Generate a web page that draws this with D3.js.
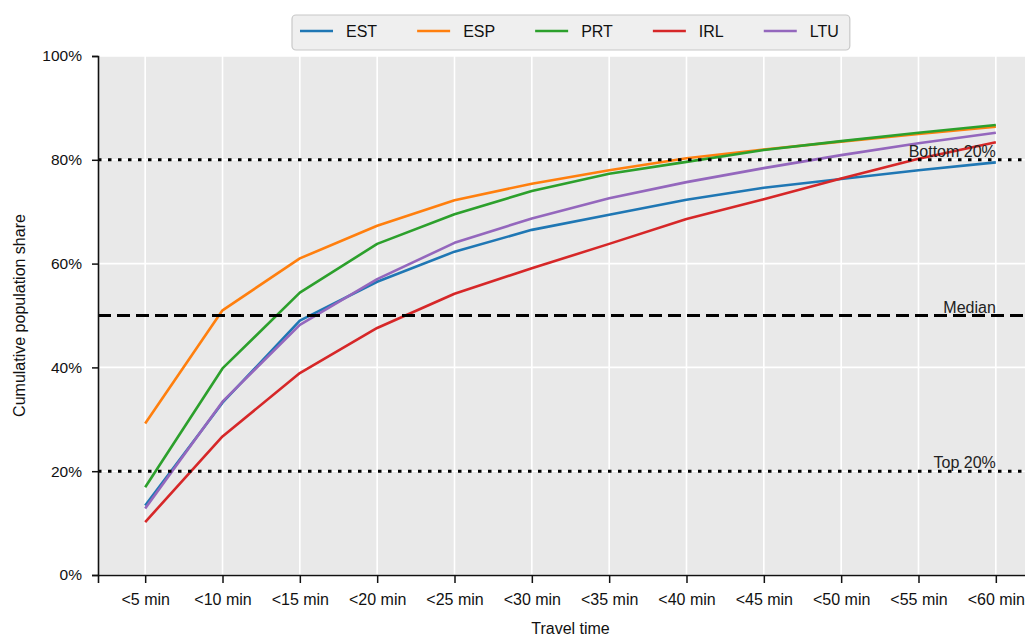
<!DOCTYPE html>
<html>
<head>
<meta charset="utf-8">
<script src="https://cdn.jsdelivr.net/npm/d3@7"></script>
<style>
  html, body { margin: 0; padding: 0; background: #fff; overflow: hidden; }
  svg { display: block; font-family: "Liberation Sans", Arial, sans-serif; }
</style>
</head>
<body>
<div id="chart"></div>
<script>
const categories = ['<5 min', '<10 min', '<15 min', '<20 min', '<25 min', '<30 min',
  '<35 min', '<40 min', '<45 min', '<50 min', '<55 min', '<60 min'];

const seriesNames = ['EST', 'ESP', 'PRT', 'IRL', 'LTU'];
const seriesColors = ['#1f77b4', '#ff7f0e', '#2ca02c', '#d62728', '#9467bd'];

const est = [13.4, 33.2, 49.0, 56.5, 62.3, 66.5, 69.4, 72.3, 74.6, 76.3, 78.0, 79.5];
const esp = [29.2, 51.0, 61.0, 67.3, 72.2, 75.4, 78.0, 80.3, 82.0, 83.5, 85.0, 86.4];
const prt = [16.9, 39.8, 54.4, 63.8, 69.5, 74.0, 77.3, 79.6, 81.9, 83.6, 85.2, 86.7];
const irl = [10.2, 26.7, 38.9, 47.6, 54.2, 59.1, 63.8, 68.6, 72.4, 76.4, 80.2, 83.4];
const ltu = [12.8, 33.4, 48.2, 57.0, 64.0, 68.7, 72.6, 75.7, 78.4, 80.9, 83.2, 85.2];

const yTicks = [0, 20, 40, 60, 80, 100];
const refLines = [
  {value: 80, label: 'Bottom 20%', dash: '3.5,6.5'},
  {value: 50, label: 'Median', dash: '13,6'},
  {value: 20, label: 'Top 20%', dash: '3.5,6.5'}
];

const width = 1025, height = 638;
const margin = {top: 56, right: -18, bottom: 63, left: 98};
const plotW = width - margin.left - margin.right;
const plotH = height - margin.top - margin.bottom;
const fs = 16;

const svg = d3.select('#chart').append('svg')
  .attr('width', width)
  .attr('height', height);

const g = svg.append('g')
  .attr('transform', `translate(${margin.left},${margin.top})`);

const x = d3.scalePoint()
  .domain(categories)
  .range([0, plotW])
  .padding(0.61);

const y = d3.scaleLinear()
  .domain([0, 100])
  .range([plotH, 0]);

// background + grid
g.append('rect')
  .attr('width', plotW)
  .attr('height', plotH)
  .attr('fill', '#e9e9e9');

g.selectAll('.vgrid')
  .data(categories)
  .join('line')
    .attr('x1', d => x(d)).attr('x2', d => x(d))
    .attr('y1', 0).attr('y2', plotH)
    .attr('stroke', '#fff')
    .attr('stroke-width', 1.6);

g.selectAll('.hgrid')
  .data(yTicks)
  .join('line')
    .attr('x1', 0).attr('x2', plotW)
    .attr('y1', d => y(d)).attr('y2', d => y(d))
    .attr('stroke', '#fff')
    .attr('stroke-width', 1.6);

// series lines
const seriesData = [est, esp, prt, irl, ltu];
const line = d3.line()
  .x((d, i) => x(categories[i]))
  .y(d => y(d));

seriesData.forEach((vals, i) => {
  g.append('path')
    .datum(vals)
    .attr('fill', 'none')
    .attr('stroke', seriesColors[i])
    .attr('stroke-width', 2.6)
    .attr('stroke-linejoin', 'round')
    .attr('d', line);
});

// reference lines
refLines.forEach(r => {
  g.append('line')
    .attr('x1', 0).attr('x2', plotW)
    .attr('y1', y(r.value)).attr('y2', y(r.value))
    .attr('stroke', '#000')
    .attr('stroke-width', 3)
    .attr('stroke-dasharray', r.dash);
  g.append('text')
    .attr('x', x(categories[categories.length - 1]))
    .attr('y', y(r.value) - 3)
    .attr('text-anchor', 'end')
    .attr('font-size', fs)
    .attr('fill', '#222')
    .text(r.label);
});

// axes
const xAxis = g.append('g')
  .attr('transform', `translate(0,${plotH})`)
  .call(d3.axisBottom(x).tickSize(8).tickPadding(11));
xAxis.selectAll('text').attr('font-size', fs).attr('fill', '#111');

const yAxis = g.append('g')
  .call(d3.axisLeft(y).tickValues(yTicks).tickFormat(d => d + '%').tickSize(6).tickPadding(10));
yAxis.selectAll('text').attr('font-size', 15.5).attr('fill', '#111');

[xAxis, yAxis].forEach(a => {
  a.select('.domain').attr('stroke', '#111').attr('stroke-width', 1.6);
  a.selectAll('.tick line').attr('stroke', '#111').attr('stroke-width', 1.5);
});

// axis titles
svg.append('text')
  .attr('x', margin.left + plotW / 2)
  .attr('y', 634)
  .attr('text-anchor', 'middle')
  .attr('font-size', fs)
  .attr('fill', '#111')
  .text('Travel time');

svg.append('text')
  .attr('transform', `translate(25,${margin.top + plotH / 2}) rotate(-90)`)
  .attr('text-anchor', 'middle')
  .attr('font-size', fs)
  .attr('fill', '#111')
  .text('Cumulative population share');

// legend
const legend = svg.append('g');
const legendBox = legend.append('rect')
  .attr('x', 292).attr('y', 15)
  .attr('height', 35)
  .attr('rx', 4)
  .attr('fill', '#efefef')
  .attr('stroke', '#c8c8c8')
  .attr('stroke-width', 1.2);

let lx = 300, lastEnd = 0;
seriesNames.forEach((name, i) => {
  legend.append('line')
    .attr('x1', lx).attr('x2', lx + 33)
    .attr('y1', 31).attr('y2', 31)
    .attr('stroke', seriesColors[i])
    .attr('stroke-width', 2.6);
  const t = legend.append('text')
    .attr('x', lx + 46)
    .attr('y', 37)
    .attr('font-size', fs)
    .attr('fill', '#111')
    .text(name);
  lastEnd = lx + 46 + t.node().getComputedTextLength();
  lx = lastEnd + 40;
});
legendBox.attr('width', lastEnd + 11 - 292);
</script>
</body>
</html>
